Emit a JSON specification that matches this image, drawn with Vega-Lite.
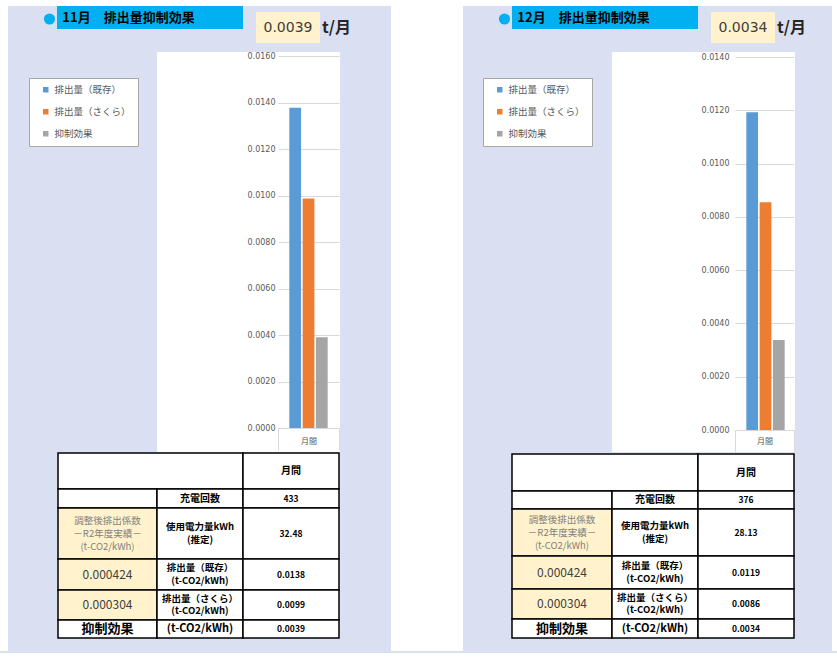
{
  "$schema": "https://vega.github.io/schema/vega-lite/v6.json",
  "background": "#dae0f2",
  "padding": 0,
  "config": {"view": {"stroke": null}, "font": "Noto Sans CJK JP"},
  "datasets": {
    "bars": [
      {"month": "11月", "period": "月間", "series": "排出量（既存）", "value": 0.01377},
      {"month": "11月", "period": "月間", "series": "排出量（さくら）", "value": 0.00987},
      {"month": "11月", "period": "月間", "series": "抑制効果", "value": 0.0039},
      {"month": "12月", "period": "月間", "series": "排出量（既存）", "value": 0.01193},
      {"month": "12月", "period": "月間", "series": "排出量（さくら）", "value": 0.00855},
      {"month": "12月", "period": "月間", "series": "抑制効果", "value": 0.00338}
    ],
    "info": [
      {"month": "11月", "title": "11月　排出量抑制効果"},
      {"month": "12月", "title": "12月　排出量抑制効果"}
    ],
    "table": [
      {"month": "11月", "r0": 0, "r1": 1, "c0": 0, "c1": 2, "kind": "blank", "text": ""},
      {"month": "11月", "r0": 0, "r1": 1, "c0": 2, "c1": 3, "kind": "head", "text": "月間"},
      {"month": "11月", "r0": 1, "r1": 2, "c0": 0, "c1": 1, "kind": "blank", "text": ""},
      {"month": "11月", "r0": 1, "r1": 2, "c0": 1, "c1": 2, "kind": "head", "text": "充電回数"},
      {"month": "11月", "r0": 1, "r1": 2, "c0": 2, "c1": 3, "kind": "value", "text": "433"},
      {"month": "11月", "r0": 2, "r1": 3, "c0": 0, "c1": 1, "kind": "coefhead", "text": "調整後排出係数\n－R2年度実績－\n(t-CO2/kWh)"},
      {"month": "11月", "r0": 2, "r1": 3, "c0": 1, "c1": 2, "kind": "label", "text": "使用電力量kWh\n(推定)"},
      {"month": "11月", "r0": 2, "r1": 3, "c0": 2, "c1": 3, "kind": "value", "text": "32.48"},
      {"month": "11月", "r0": 3, "r1": 4, "c0": 0, "c1": 1, "kind": "coef", "text": "0.000424"},
      {"month": "11月", "r0": 3, "r1": 4, "c0": 1, "c1": 2, "kind": "label", "text": "排出量（既存）\n(t-CO2/kWh)"},
      {"month": "11月", "r0": 3, "r1": 4, "c0": 2, "c1": 3, "kind": "value", "text": "0.0138"},
      {"month": "11月", "r0": 4, "r1": 5, "c0": 0, "c1": 1, "kind": "coef", "text": "0.000304"},
      {"month": "11月", "r0": 4, "r1": 5, "c0": 1, "c1": 2, "kind": "label", "text": "排出量（さくら）\n(t-CO2/kWh)"},
      {"month": "11月", "r0": 4, "r1": 5, "c0": 2, "c1": 3, "kind": "value", "text": "0.0099"},
      {"month": "11月", "r0": 5, "r1": 6, "c0": 0, "c1": 1, "kind": "effect", "text": "抑制効果"},
      {"month": "11月", "r0": 5, "r1": 6, "c0": 1, "c1": 2, "kind": "unit", "text": "(t-CO2/kWh)"},
      {"month": "11月", "r0": 5, "r1": 6, "c0": 2, "c1": 3, "kind": "value", "text": "0.0039"},
      {"month": "12月", "r0": 0, "r1": 1, "c0": 0, "c1": 2, "kind": "blank", "text": ""},
      {"month": "12月", "r0": 0, "r1": 1, "c0": 2, "c1": 3, "kind": "head", "text": "月間"},
      {"month": "12月", "r0": 1, "r1": 2, "c0": 0, "c1": 1, "kind": "blank", "text": ""},
      {"month": "12月", "r0": 1, "r1": 2, "c0": 1, "c1": 2, "kind": "head", "text": "充電回数"},
      {"month": "12月", "r0": 1, "r1": 2, "c0": 2, "c1": 3, "kind": "value", "text": "376"},
      {"month": "12月", "r0": 2, "r1": 3, "c0": 0, "c1": 1, "kind": "coefhead", "text": "調整後排出係数\n－R2年度実績－\n(t-CO2/kWh)"},
      {"month": "12月", "r0": 2, "r1": 3, "c0": 1, "c1": 2, "kind": "label", "text": "使用電力量kWh\n(推定)"},
      {"month": "12月", "r0": 2, "r1": 3, "c0": 2, "c1": 3, "kind": "value", "text": "28.13"},
      {"month": "12月", "r0": 3, "r1": 4, "c0": 0, "c1": 1, "kind": "coef", "text": "0.000424"},
      {"month": "12月", "r0": 3, "r1": 4, "c0": 1, "c1": 2, "kind": "label", "text": "排出量（既存）\n(t-CO2/kWh)"},
      {"month": "12月", "r0": 3, "r1": 4, "c0": 2, "c1": 3, "kind": "value", "text": "0.0119"},
      {"month": "12月", "r0": 4, "r1": 5, "c0": 0, "c1": 1, "kind": "coef", "text": "0.000304"},
      {"month": "12月", "r0": 4, "r1": 5, "c0": 1, "c1": 2, "kind": "label", "text": "排出量（さくら）\n(t-CO2/kWh)"},
      {"month": "12月", "r0": 4, "r1": 5, "c0": 2, "c1": 3, "kind": "value", "text": "0.0086"},
      {"month": "12月", "r0": 5, "r1": 6, "c0": 0, "c1": 1, "kind": "effect", "text": "抑制効果"},
      {"month": "12月", "r0": 5, "r1": 6, "c0": 1, "c1": 2, "kind": "unit", "text": "(t-CO2/kWh)"},
      {"month": "12月", "r0": 5, "r1": 6, "c0": 2, "c1": 3, "kind": "value", "text": "0.0034"}
    ]
  },
  "spacing": 0,
  "vconcat": [
    {"width": 837, "height": 6, "view": {"fill": "#ffffff"}, "data": {"values": [{}]}, "mark": {"type": "rect", "opacity": 0}},
    {
      "spacing": 0,
      "resolve": {"scale": {"color": "independent"}, "legend": {"color": "independent"}},
      "hconcat": [
        {"width": 8, "height": 645, "view": {"fill": "#ffffff"}, "data": {"values": [{}]}, "mark": {"type": "rect", "opacity": 0}},
        {
          "spacing": 0,
          "resolve": {"scale": {"color": "independent"}, "legend": {"color": "independent"}},
          "vconcat": [
            {
              "spacing": 0,
              "vconcat": [
                {
                  "spacing": 0, "bounds": "flush",
                  "hconcat": [
                    {"width": 49, "height": 6, "data": {"values": [{}]}, "mark": {"type": "rect", "opacity": 0}},
                    {"width": 186, "height": 6, "view": {"fill": "#00b0f0"}, "data": {"values": [{}]}, "mark": {"type": "rect", "opacity": 0}}
                  ]
                },
                {
                  "spacing": 0, "bounds": "flush",
                  "hconcat": [
                    {"width": 34, "height": 40, "data": {"values": [{}]}, "mark": {"type": "rect", "opacity": 0}},
                    {"width": 15, "height": 14, "data": {"name": "info"}, "transform": [{"filter": "datum.month === '11月'"}], "mark": {"type": "point", "shape": "circle", "filled": true, "size": 125, "color": "#00b0f0", "opacity": 1}},
                    {"width": 6, "height": 17, "view": {"fill": "#00b0f0"}, "data": {"values": [{}]}, "mark": {"type": "rect", "opacity": 0}},
                    {"width": 131, "height": 17, "view": {"fill": "#00b0f0"}, "data": {"name": "info"}, "transform": [{"filter": "datum.month === '11月'"}], "mark": {"type": "text", "fontSize": 13, "fontWeight": "bold", "color": "#000000", "align": "center", "baseline": "middle", "dy": -2.5}, "encoding": {"text": {"field": "title", "type": "nominal"}}},
                    {"width": 49, "height": 17, "view": {"fill": "#00b0f0"}, "data": {"values": [{}]}, "mark": {"type": "rect", "opacity": 0}},
                    {"width": 13, "height": 40, "data": {"values": [{}]}, "mark": {"type": "rect", "opacity": 0}},
                    {"width": 64, "height": 31, "view": {"fill": "#fff2cc"}, "data": {"name": "bars"}, "transform": [{"filter": "datum.month === '11月' && datum.series === '抑制効果'"}], "mark": {"type": "text", "font": "DejaVu Sans", "fontSize": 14, "color": "#404040", "align": "center", "baseline": "middle"}, "encoding": {"text": {"field": "value", "type": "quantitative", "format": ".4f"}}},
                    {"width": 3, "height": 31, "data": {"values": [{}]}, "mark": {"type": "rect", "opacity": 0}},
                    {"width": 27, "height": 31, "data": {"values": [{}]}, "mark": {"type": "text", "text": "t/月", "fontSize": 16, "fontWeight": "bold", "color": "#262626", "align": "center", "baseline": "middle"}}
                  ]
                }
              ]
            },
            {
              "spacing": 0,
              "bounds": "flush",
              "resolve": {"scale": {"color": "independent"}, "legend": {"color": "independent"}},
              "hconcat": [
                {"width": 149, "height": 400, "data": {"values": [{}]}, "mark": {"type": "rect", "opacity": 0}},
                {
                  "width": 183, "height": 400,
                  "view": {"fill": "#ffffff"},
                  "data": {"name": "bars"},
                  "transform": [{"filter": "datum.month === '11月'"}],
                  "mark": {"type": "bar"},
                  "encoding": {
                    "x": {"field": "period", "type": "nominal", "title": null,
                      "scale": {"range": [121, 182], "paddingInner": 0, "paddingOuter": 0},
                      "axis": {"orient": "bottom", "offset": -24, "domain": false, "tickBand": "extent", "tickSize": 22, "tickColor": "#d9d9d9", "tickWidth": 1, "labelAngle": 0, "labelPadding": -9, "labelBaseline": "middle", "labelFontSize": 8, "labelColor": "#595959", "grid": false, "minExtent": 0, "maxExtent": 0}},
                    "xOffset": {"field": "series", "type": "nominal", "sort": ["排出量（既存）", "排出量（さくら）", "抑制効果"], "scale": {"paddingInner": 0.12, "paddingOuter": 0.85}},
                    "y": {"field": "value", "type": "quantitative", "title": null,
                      "scale": {"domain": [0, 0.016], "range": [376, 4], "nice": false},
                      "axis": {"offset": -121, "values": [0, 0.002, 0.004, 0.006, 0.008, 0.01, 0.012, 0.014, 0.016], "format": ".4f", "domain": false, "ticks": false, "grid": true, "gridColor": "#d9d9d9", "gridWidth": 1, "labelFont": "DejaVu Sans", "labelFontSize": 8, "labelColor": "#595959", "labelPadding": 3, "minExtent": 0, "maxExtent": 0}},
                    "color": {"field": "series", "type": "nominal",
                      "scale": {"domain": ["排出量（既存）", "排出量（さくら）", "抑制効果"], "range": ["#5b9bd5", "#ed7d31", "#a5a5a5"]},
                      "legend": {"orient": "none", "legendX": -128, "legendY": 26, "title": null, "fillColor": "#ffffff", "strokeColor": "#a6a6a6", "padding": 7, "symbolType": "square", "symbolSize": 30, "symbolOffset": 5, "symbolStrokeWidth": 0, "labelFontSize": 9.5, "labelColor": "#595959", "labelOffset": 4, "rowPadding": 11, "labelLimit": 200}}
                  }
                }
              ]
            },
            {
              "spacing": 0,
              "bounds": "flush",
              "hconcat": [
                {"width": 50, "height": 185, "data": {"values": [{}]}, "mark": {"type": "rect", "opacity": 0}},
                {
                  "width": 282, "height": 185,
                  "data": {"name": "table"},
                  "transform": [{"filter": "datum.month === '11月'"}],
                  "resolve": {"scale": {"x": "independent", "y": "independent"}},
                  "layer": [
                    {"mark": {"type": "rect", "stroke": "#000000", "strokeWidth": 1.5},
                     "encoding": {
                       "x": {"field": "c0", "type": "quantitative", "scale": {"domain": [0, 1, 2, 3], "range": [0, 99, 185, 281], "nice": false, "zero": false}, "axis": null},
                       "x2": {"field": "c1"},
                       "y": {"field": "r0", "type": "quantitative", "scale": {"domain": [0, 1, 2, 3, 4, 5, 6], "range": [0, 36, 55, 106, 137, 167, 185], "nice": false, "zero": false}, "axis": null},
                       "y2": {"field": "r1"},
                       "fill": {"condition": {"test": "datum.kind === 'coef' || datum.kind === 'coefhead'", "value": "#fff2cc"}, "value": "#ffffff"}
                     }},
                    {"transform": [{"filter": "datum.kind === 'coefhead'"}],
                     "mark": {"type": "text", "fontSize": 9.5, "color": "#7f7f7f", "lineBreak": "\n", "lineHeight": 13, "dy": -13},
                     "encoding": {
                       "x": {"field": "c0", "type": "quantitative", "scale": {"domain": [0, 1, 2], "range": [49.5, 142, 233], "nice": false, "zero": false}, "axis": null},
                       "y": {"field": "r0", "type": "quantitative", "scale": {"domain": [0, 1, 2, 3, 4, 5], "range": [18, 45.5, 80.5, 121.5, 152, 176], "nice": false, "zero": false}, "axis": null},
                       "text": {"field": "text", "type": "nominal"}}},
                    {"transform": [{"filter": "datum.kind === 'coef'"}],
                     "mark": {"type": "text", "fontSize": 12, "color": "#404040"},
                     "encoding": {
                       "x": {"field": "c0", "type": "quantitative", "scale": {"domain": [0, 1, 2], "range": [49.5, 142, 233], "nice": false, "zero": false}, "axis": null},
                       "y": {"field": "r0", "type": "quantitative", "scale": {"domain": [0, 1, 2, 3, 4, 5], "range": [18, 45.5, 80.5, 121.5, 152, 176], "nice": false, "zero": false}, "axis": null},
                       "text": {"field": "text", "type": "nominal"}}},
                    {"transform": [{"filter": "datum.kind === 'label'"}],
                     "mark": {"type": "text", "fontSize": 9.5, "fontWeight": "bold", "color": "#000000", "lineBreak": "\n", "lineHeight": 12.5, "dy": -6.25},
                     "encoding": {
                       "x": {"field": "c0", "type": "quantitative", "scale": {"domain": [0, 1, 2], "range": [49.5, 142, 233], "nice": false, "zero": false}, "axis": null},
                       "y": {"field": "r0", "type": "quantitative", "scale": {"domain": [0, 1, 2, 3, 4, 5], "range": [18, 45.5, 80.5, 121.5, 152, 176], "nice": false, "zero": false}, "axis": null},
                       "text": {"field": "text", "type": "nominal"}}},
                    {"transform": [{"filter": "datum.kind === 'value'"}],
                     "mark": {"type": "text", "fontSize": 8.5, "fontWeight": "bold", "color": "#000000"},
                     "encoding": {
                       "x": {"field": "c0", "type": "quantitative", "scale": {"domain": [0, 1, 2], "range": [49.5, 142, 233], "nice": false, "zero": false}, "axis": null},
                       "y": {"field": "r0", "type": "quantitative", "scale": {"domain": [0, 1, 2, 3, 4, 5], "range": [18, 45.5, 80.5, 121.5, 152, 176], "nice": false, "zero": false}, "axis": null},
                       "text": {"field": "text", "type": "nominal"}}},
                    {"transform": [{"filter": "datum.kind === 'head'"}],
                     "mark": {"type": "text", "fontSize": 10, "fontWeight": "bold", "color": "#000000"},
                     "encoding": {
                       "x": {"field": "c0", "type": "quantitative", "scale": {"domain": [0, 1, 2], "range": [49.5, 142, 233], "nice": false, "zero": false}, "axis": null},
                       "y": {"field": "r0", "type": "quantitative", "scale": {"domain": [0, 1, 2, 3, 4, 5], "range": [18, 45.5, 80.5, 121.5, 152, 176], "nice": false, "zero": false}, "axis": null},
                       "text": {"field": "text", "type": "nominal"}}},
                    {"transform": [{"filter": "datum.kind === 'effect'"}],
                     "mark": {"type": "text", "fontSize": 13, "fontWeight": "bold", "color": "#000000"},
                     "encoding": {
                       "x": {"field": "c0", "type": "quantitative", "scale": {"domain": [0, 1, 2], "range": [49.5, 142, 233], "nice": false, "zero": false}, "axis": null},
                       "y": {"field": "r0", "type": "quantitative", "scale": {"domain": [0, 1, 2, 3, 4, 5], "range": [18, 45.5, 80.5, 121.5, 152, 176], "nice": false, "zero": false}, "axis": null},
                       "text": {"field": "text", "type": "nominal"}}},
                    {"transform": [{"filter": "datum.kind === 'unit'"}],
                     "mark": {"type": "text", "fontSize": 11, "fontWeight": "bold", "color": "#000000"},
                     "encoding": {
                       "x": {"field": "c0", "type": "quantitative", "scale": {"domain": [0, 1, 2], "range": [49.5, 142, 233], "nice": false, "zero": false}, "axis": null},
                       "y": {"field": "r0", "type": "quantitative", "scale": {"domain": [0, 1, 2, 3, 4, 5], "range": [18, 45.5, 80.5, 121.5, 152, 176], "nice": false, "zero": false}, "axis": null},
                       "text": {"field": "text", "type": "nominal"}}}
                  ]
                }
              ]
            },
            {"width": 383, "height": 14, "data": {"values": [{}]}, "mark": {"type": "rect", "opacity": 0}}
          ]
        },
        {"width": 72, "height": 645, "view": {"fill": "#ffffff"}, "data": {"values": [{}]}, "mark": {"type": "rect", "opacity": 0}},
        {
          "spacing": 0,
          "resolve": {"scale": {"color": "independent"}, "legend": {"color": "independent"}},
          "vconcat": [
            {
              "spacing": 0,
              "vconcat": [
                {
                  "spacing": 0, "bounds": "flush",
                  "hconcat": [
                    {"width": 49, "height": 6, "data": {"values": [{}]}, "mark": {"type": "rect", "opacity": 0}},
                    {"width": 186, "height": 6, "view": {"fill": "#00b0f0"}, "data": {"values": [{}]}, "mark": {"type": "rect", "opacity": 0}}
                  ]
                },
                {
                  "spacing": 0, "bounds": "flush",
                  "hconcat": [
                    {"width": 34, "height": 40, "data": {"values": [{}]}, "mark": {"type": "rect", "opacity": 0}},
                    {"width": 15, "height": 14, "data": {"name": "info"}, "transform": [{"filter": "datum.month === '12月'"}], "mark": {"type": "point", "shape": "circle", "filled": true, "size": 125, "color": "#00b0f0", "opacity": 1}},
                    {"width": 6, "height": 17, "view": {"fill": "#00b0f0"}, "data": {"values": [{}]}, "mark": {"type": "rect", "opacity": 0}},
                    {"width": 131, "height": 17, "view": {"fill": "#00b0f0"}, "data": {"name": "info"}, "transform": [{"filter": "datum.month === '12月'"}], "mark": {"type": "text", "fontSize": 13, "fontWeight": "bold", "color": "#000000", "align": "center", "baseline": "middle", "dy": -2.5}, "encoding": {"text": {"field": "title", "type": "nominal"}}},
                    {"width": 49, "height": 17, "view": {"fill": "#00b0f0"}, "data": {"values": [{}]}, "mark": {"type": "rect", "opacity": 0}},
                    {"width": 13, "height": 40, "data": {"values": [{}]}, "mark": {"type": "rect", "opacity": 0}},
                    {"width": 64, "height": 31, "view": {"fill": "#fff2cc"}, "data": {"name": "bars"}, "transform": [{"filter": "datum.month === '12月' && datum.series === '抑制効果'"}], "mark": {"type": "text", "font": "DejaVu Sans", "fontSize": 14, "color": "#404040", "align": "center", "baseline": "middle"}, "encoding": {"text": {"field": "value", "type": "quantitative", "format": ".4f"}}},
                    {"width": 3, "height": 31, "data": {"values": [{}]}, "mark": {"type": "rect", "opacity": 0}},
                    {"width": 27, "height": 31, "data": {"values": [{}]}, "mark": {"type": "text", "text": "t/月", "fontSize": 16, "fontWeight": "bold", "color": "#262626", "align": "center", "baseline": "middle"}}
                  ]
                }
              ]
            },
            {
              "spacing": 0,
              "bounds": "flush",
              "resolve": {"scale": {"color": "independent"}, "legend": {"color": "independent"}},
              "hconcat": [
                {"width": 149, "height": 400, "data": {"values": [{}]}, "mark": {"type": "rect", "opacity": 0}},
                {
                  "width": 183, "height": 400,
                  "view": {"fill": "#ffffff"},
                  "data": {"name": "bars"},
                  "transform": [{"filter": "datum.month === '12月'"}],
                  "mark": {"type": "bar"},
                  "encoding": {
                    "x": {"field": "period", "type": "nominal", "title": null,
                      "scale": {"range": [123, 182], "paddingInner": 0, "paddingOuter": 0},
                      "axis": {"orient": "bottom", "offset": -22, "domain": false, "tickBand": "extent", "tickSize": 22, "tickColor": "#d9d9d9", "tickWidth": 1, "labelAngle": 0, "labelPadding": -11, "labelBaseline": "middle", "labelFontSize": 8, "labelColor": "#595959", "grid": false, "minExtent": 0, "maxExtent": 0}},
                    "xOffset": {"field": "series", "type": "nominal", "sort": ["排出量（既存）", "排出量（さくら）", "抑制効果"], "scale": {"paddingInner": 0.12, "paddingOuter": 0.75}},
                    "y": {"field": "value", "type": "quantitative", "title": null,
                      "scale": {"domain": [0, 0.014], "range": [378, 5], "nice": false},
                      "axis": {"offset": -123, "values": [0, 0.002, 0.004, 0.006, 0.008, 0.01, 0.012, 0.014], "format": ".4f", "domain": false, "ticks": false, "grid": true, "gridColor": "#d9d9d9", "gridWidth": 1, "labelFont": "DejaVu Sans", "labelFontSize": 8, "labelColor": "#595959", "labelPadding": 6, "minExtent": 0, "maxExtent": 0}},
                    "color": {"field": "series", "type": "nominal",
                      "scale": {"domain": ["排出量（既存）", "排出量（さくら）", "抑制効果"], "range": ["#5b9bd5", "#ed7d31", "#a5a5a5"]},
                      "legend": {"orient": "none", "legendX": -129, "legendY": 26, "title": null, "fillColor": "#ffffff", "strokeColor": "#a6a6a6", "padding": 7, "symbolType": "square", "symbolSize": 30, "symbolOffset": 5, "symbolStrokeWidth": 0, "labelFontSize": 9.5, "labelColor": "#595959", "labelOffset": 4, "rowPadding": 11, "labelLimit": 200}}
                  }
                }
              ]
            },
            {
              "spacing": 0,
              "bounds": "flush",
              "hconcat": [
                {"width": 49, "height": 185, "data": {"values": [{}]}, "mark": {"type": "rect", "opacity": 0}},
                {
                  "width": 282, "height": 185,
                  "data": {"name": "table"},
                  "transform": [{"filter": "datum.month === '12月'"}],
                  "resolve": {"scale": {"x": "independent", "y": "independent"}},
                  "layer": [
                    {"mark": {"type": "rect", "stroke": "#000000", "strokeWidth": 1.5},
                     "encoding": {
                       "x": {"field": "c0", "type": "quantitative", "scale": {"domain": [0, 1, 2, 3], "range": [0, 100, 186, 282], "nice": false, "zero": false}, "axis": null},
                       "x2": {"field": "c1"},
                       "y": {"field": "r0", "type": "quantitative", "scale": {"domain": [0, 1, 2, 3, 4, 5, 6], "range": [1, 38, 56, 103, 136, 166, 185], "nice": false, "zero": false}, "axis": null},
                       "y2": {"field": "r1"},
                       "fill": {"condition": {"test": "datum.kind === 'coef' || datum.kind === 'coefhead'", "value": "#fff2cc"}, "value": "#ffffff"}
                     }},
                    {"transform": [{"filter": "datum.kind === 'coefhead'"}],
                     "mark": {"type": "text", "fontSize": 9.5, "color": "#7f7f7f", "lineBreak": "\n", "lineHeight": 13, "dy": -13},
                     "encoding": {
                       "x": {"field": "c0", "type": "quantitative", "scale": {"domain": [0, 1, 2], "range": [50, 143, 234], "nice": false, "zero": false}, "axis": null},
                       "y": {"field": "r0", "type": "quantitative", "scale": {"domain": [0, 1, 2, 3, 4, 5], "range": [19.5, 47, 79.5, 119.5, 151, 175.5], "nice": false, "zero": false}, "axis": null},
                       "text": {"field": "text", "type": "nominal"}}},
                    {"transform": [{"filter": "datum.kind === 'coef'"}],
                     "mark": {"type": "text", "fontSize": 12, "color": "#404040"},
                     "encoding": {
                       "x": {"field": "c0", "type": "quantitative", "scale": {"domain": [0, 1, 2], "range": [50, 143, 234], "nice": false, "zero": false}, "axis": null},
                       "y": {"field": "r0", "type": "quantitative", "scale": {"domain": [0, 1, 2, 3, 4, 5], "range": [19.5, 47, 79.5, 119.5, 151, 175.5], "nice": false, "zero": false}, "axis": null},
                       "text": {"field": "text", "type": "nominal"}}},
                    {"transform": [{"filter": "datum.kind === 'label'"}],
                     "mark": {"type": "text", "fontSize": 9.5, "fontWeight": "bold", "color": "#000000", "lineBreak": "\n", "lineHeight": 12.5, "dy": -6.25},
                     "encoding": {
                       "x": {"field": "c0", "type": "quantitative", "scale": {"domain": [0, 1, 2], "range": [50, 143, 234], "nice": false, "zero": false}, "axis": null},
                       "y": {"field": "r0", "type": "quantitative", "scale": {"domain": [0, 1, 2, 3, 4, 5], "range": [19.5, 47, 79.5, 119.5, 151, 175.5], "nice": false, "zero": false}, "axis": null},
                       "text": {"field": "text", "type": "nominal"}}},
                    {"transform": [{"filter": "datum.kind === 'value'"}],
                     "mark": {"type": "text", "fontSize": 8.5, "fontWeight": "bold", "color": "#000000"},
                     "encoding": {
                       "x": {"field": "c0", "type": "quantitative", "scale": {"domain": [0, 1, 2], "range": [50, 143, 234], "nice": false, "zero": false}, "axis": null},
                       "y": {"field": "r0", "type": "quantitative", "scale": {"domain": [0, 1, 2, 3, 4, 5], "range": [19.5, 47, 79.5, 119.5, 151, 175.5], "nice": false, "zero": false}, "axis": null},
                       "text": {"field": "text", "type": "nominal"}}},
                    {"transform": [{"filter": "datum.kind === 'head'"}],
                     "mark": {"type": "text", "fontSize": 10, "fontWeight": "bold", "color": "#000000"},
                     "encoding": {
                       "x": {"field": "c0", "type": "quantitative", "scale": {"domain": [0, 1, 2], "range": [50, 143, 234], "nice": false, "zero": false}, "axis": null},
                       "y": {"field": "r0", "type": "quantitative", "scale": {"domain": [0, 1, 2, 3, 4, 5], "range": [19.5, 47, 79.5, 119.5, 151, 175.5], "nice": false, "zero": false}, "axis": null},
                       "text": {"field": "text", "type": "nominal"}}},
                    {"transform": [{"filter": "datum.kind === 'effect'"}],
                     "mark": {"type": "text", "fontSize": 13, "fontWeight": "bold", "color": "#000000"},
                     "encoding": {
                       "x": {"field": "c0", "type": "quantitative", "scale": {"domain": [0, 1, 2], "range": [50, 143, 234], "nice": false, "zero": false}, "axis": null},
                       "y": {"field": "r0", "type": "quantitative", "scale": {"domain": [0, 1, 2, 3, 4, 5], "range": [19.5, 47, 79.5, 119.5, 151, 175.5], "nice": false, "zero": false}, "axis": null},
                       "text": {"field": "text", "type": "nominal"}}},
                    {"transform": [{"filter": "datum.kind === 'unit'"}],
                     "mark": {"type": "text", "fontSize": 11, "fontWeight": "bold", "color": "#000000"},
                     "encoding": {
                       "x": {"field": "c0", "type": "quantitative", "scale": {"domain": [0, 1, 2], "range": [50, 143, 234], "nice": false, "zero": false}, "axis": null},
                       "y": {"field": "r0", "type": "quantitative", "scale": {"domain": [0, 1, 2, 3, 4, 5], "range": [19.5, 47, 79.5, 119.5, 151, 175.5], "nice": false, "zero": false}, "axis": null},
                       "text": {"field": "text", "type": "nominal"}}}
                  ]
                }
              ]
            },
            {"width": 369, "height": 14, "data": {"values": [{}]}, "mark": {"type": "rect", "opacity": 0}}
          ]
        },
        {"width": 5, "height": 645, "view": {"fill": "#ffffff"}, "data": {"values": [{}]}, "mark": {"type": "rect", "opacity": 0}}
      ]
    },
    {"width": 837, "height": 6, "view": {"fill": "#ffffff"}, "data": {"values": [{}]}, "mark": {"type": "rect", "opacity": 0}}
  ]
}
